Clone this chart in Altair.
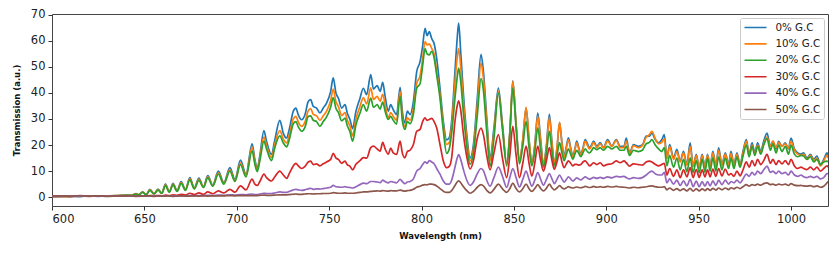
import altair as alt
import pandas as pd

# wavelength grid (nm)
wavelength = (
    [600, 605, 610, 615, 620, 625, 630, 635, 640]
    + [643, 645.5, 647, 649, 651, 653, 655.2, 657.4, 659.4, 661.4, 663.5, 665.5, 667.7, 669.9, 672.2, 674.6, 677, 679.5, 682, 684.3, 687, 690, 693, 696.3, 699, 702, 705]
    + [708.3, 709.8, 711.1, 712.5, 714.7, 716.1, 718.8, 720.6, 723.3, 725.2, 727, 728.4, 730.6, 732, 733.3, 735.1, 736.9, 738.7, 740, 741.4, 743.2, 745, 746.8, 748.6, 750.8, 752.2, 753.7, 755, 756.8, 758.6, 759.8, 761.3, 762.7, 764.5, 766.7, 768.5, 770.3, 772.5]
    + [774.0, 776.0, 777.6, 779.0, 780.3, 782.0, 783.3, 784.7, 786.5, 788.4, 789.6, 791.0, 792.3, 793.8, 795.6, 797.4, 799.2, 800.6, 801.9, 803.0, 804.2, 805.5, 806.8, 808.2, 810.0, 811.8, 813.6, 815.0, 816.3, 818.1, 819.3, 820.1, 821.2, 822.7, 824.5, 826.3, 828.1, 830.2, 832.2, 833.5, 835.3, 837.1, 839.2]
    + [841.6, 843.8, 846.1, 847.8, 849.4, 851.2, 853.0, 854.8, 856.6, 858.2, 859.7, 861.3, 862.9, 864.5, 866.0, 867.6, 869.2, 870.6, 871.9, 873.3, 874.7, 876.0, 877.2, 878.4, 879.5, 880.7, 881.9, 883.0, 884.0, 885.1, 886.2, 887.4, 888.6, 889.8, 890.9, 892.0, 893.1, 894.9, 896.7, 898.5, 900.7, 903.0, 905.4, 907.5]
    + [909.6, 910.8, 912.6, 914.7, 917.4, 919.5, 921.6, 923.3, 924.7, 926.5, 928.3, 930.0, 931.4, 932.8, 934.3, 936.4, 938.2, 940.0, 941.8, 943.6, 945.4, 947.0, 948.7, 950.3, 951.9, 953.4, 954.8, 956.2, 957.7, 959.3, 960.8, 962.6, 964.4, 966.2]
    + [967.5, 969.1, 970.7, 972.4, 974.0, 975.8, 977.3, 978.9, 980.4, 981.9, 983.6, 985.2, 987.0, 988.8, 990.2, 991.9, 993.3, 995.1, 996.9, 998.6, 1000.0, 1001.8, 1003.6, 1005.4, 1006.8, 1008.6, 1010.5, 1012.3, 1014.0, 1015.9, 1017.7, 1019.5, 1020.0]
)

gc0 = (
    [0.3, 0.3, 0.4, 0.3, 0.4, 0.4, 0.5, 0.6, 0.8]
    + [0.7, 1.4, 0.9, 2.0, 1.0, 3.0, 1.3, 3.1, 1.5, 5.0, 2.0, 5.3, 2.4, 6.0, 2.9, 7.5, 3.5, 7.3, 4.0, 8.3, 4.6, 10.0, 5.6, 11.3, 6.8, 14.2, 8.8]
    + [20.5, 14.5, 11.0, 16.0, 25.5, 21.5, 16.4, 22.0, 29.5, 24.5, 22.7, 26.0, 33.0, 34.2, 31.6, 29.7, 31.6, 36.7, 37.4, 34.8, 34.2, 32.3, 34.2, 36.1, 40.5, 45.8, 39.9, 38.0, 34.2, 35.5, 32.3, 29.7, 26.3, 32.9, 38.0, 41.8, 39.3, 47.0]
    + [41.5, 42.8, 40.6, 44.1, 38.7, 33.0, 35.5, 33.6, 31.7, 42.1, 33.0, 28.5, 33.0, 31.7, 36.7, 48.2, 52.0, 58.0, 64.8, 62.0, 63.5, 60.9, 59.0, 53.3, 41.8, 29.1, 22.0, 22.8, 29.1, 48.2, 60.9, 66.8, 55.8, 39.3, 24.0, 15.1, 20.2, 38.0, 54.8, 48.2, 30.4, 15.1, 26.6]
    + [41.9, 28.0, 13.0, 25.0, 44.6, 28.0, 14.0, 22.0, 34.2, 22.0, 13.2, 20.0, 32.3, 22.0, 12.6, 20.0, 31.8, 21.0, 13.2, 18.5, 28.5, 21.0, 15.8, 19.5, 22.8, 19.0, 15.8, 18.5, 21.5, 19.0, 16.4, 19.0, 22.1, 20.5, 19.0, 20.0, 21.5, 19.6, 20.9, 19.0, 22.1, 19.6, 22.1, 19.5]
    + [19.5, 22.7, 17.0, 20.2, 19.5, 20.0, 23.4, 23.4, 24.6, 22.1, 20.8, 22.0, 24.0, 15.1, 20.2, 15.1, 18.3, 13.8, 17.6, 12.5, 20.8, 11.9, 16.4, 11.3, 16.4, 11.5, 16.4, 11.8, 17.6, 12.0, 18.9, 12.5, 17.0, 12.5]
    + [17.6, 12.5, 17.0, 12.5, 17.6, 22.1, 16.5, 20.8, 17.0, 20.8, 17.6, 21.4, 24.6, 19.5, 21.4, 18.5, 21.4, 19.5, 20.8, 18.5, 22.7, 18.5, 17.0, 16.5, 17.0, 15.1, 16.4, 14.5, 15.8, 12.5, 14.5, 17.0, 15.5]
)

gc10 = (
    [0.3, 0.3, 0.3, 0.4, 0.4, 0.4, 0.5, 0.6, 0.7]
    + [0.7, 1.3, 0.9, 1.9, 1.0, 2.8, 1.3, 2.9, 1.5, 4.7, 2.0, 5.0, 2.3, 5.6, 2.8, 7.0, 3.4, 6.8, 3.9, 7.8, 4.4, 9.3, 5.3, 10.5, 6.4, 13.2, 8.3]
    + [19.2, 13.6, 10.4, 15.0, 23.0, 19.8, 15.2, 20.3, 25.5, 22.3, 20.8, 23.8, 30.0, 31.0, 28.8, 27.2, 28.8, 33.2, 34.0, 31.8, 31.2, 29.5, 31.2, 33.0, 37.0, 41.5, 36.5, 34.8, 31.3, 32.5, 29.6, 27.2, 23.5, 30.0, 34.8, 38.2, 35.8, 42.0]
    + [37.5, 38.7, 36.8, 39.5, 35.5, 30.4, 32.5, 31.0, 29.5, 40.6, 31.0, 27.0, 30.5, 29.5, 34.0, 43.7, 46.5, 53.0, 59.7, 58.4, 58.8, 57.1, 55.0, 48.2, 39.3, 27.5, 20.2, 21.0, 27.0, 44.0, 53.5, 57.0, 50.0, 36.0, 22.0, 13.9, 18.5, 35.0, 51.5, 45.5, 28.5, 14.0, 25.0]
    + [40.6, 27.0, 12.8, 25.0, 44.4, 27.5, 13.8, 22.0, 34.5, 22.0, 13.0, 19.5, 31.0, 21.0, 12.5, 19.0, 30.5, 20.5, 13.0, 19.0, 28.8, 20.5, 15.2, 18.8, 22.0, 18.5, 15.2, 18.0, 20.8, 18.5, 16.0, 18.5, 21.5, 19.8, 18.5, 19.5, 21.0, 19.0, 20.5, 18.8, 21.5, 19.5, 21.8, 19.0]
    + [19.0, 21.5, 16.5, 19.8, 19.0, 19.8, 23.0, 24.0, 25.3, 22.5, 20.5, 21.0, 22.5, 14.8, 19.5, 14.5, 17.5, 13.5, 17.0, 12.3, 19.5, 11.8, 16.0, 11.2, 16.0, 11.3, 16.0, 11.6, 17.0, 11.8, 18.0, 12.2, 16.5, 12.2]
    + [16.8, 12.0, 16.5, 12.0, 17.0, 21.5, 16.0, 20.0, 16.5, 20.0, 17.0, 20.5, 23.0, 19.5, 21.5, 19.0, 21.0, 19.5, 20.5, 18.8, 21.5, 18.0, 16.5, 16.0, 16.5, 14.5, 16.0, 14.0, 15.0, 12.0, 14.0, 16.0, 15.0]
)

gc20 = (
    [0.3, 0.3, 0.3, 0.3, 0.4, 0.4, 0.5, 0.5, 0.7]
    + [0.6, 1.2, 0.8, 1.8, 0.9, 2.6, 1.2, 2.7, 1.4, 4.4, 1.9, 4.7, 2.2, 5.3, 2.6, 6.6, 3.2, 6.4, 3.7, 7.4, 4.2, 8.8, 5.0, 10.0, 6.0, 12.5, 7.8]
    + [17.8, 12.6, 9.8, 14.0, 21.5, 18.5, 14.0, 19.0, 23.5, 20.8, 19.3, 22.0, 28.2, 29.0, 27.0, 25.3, 26.8, 31.0, 31.2, 29.5, 29.0, 27.2, 29.0, 30.8, 34.5, 38.2, 34.0, 32.5, 29.3, 30.3, 27.5, 25.0, 21.5, 27.8, 32.3, 35.5, 33.0, 38.0]
    + [34.5, 35.5, 33.8, 36.5, 33.0, 29.8, 31.0, 29.5, 28.0, 38.7, 29.5, 26.0, 29.0, 28.2, 32.0, 41.8, 43.5, 50.5, 57.0, 55.0, 54.6, 56.0, 53.5, 46.9, 38.0, 25.5, 16.8, 18.5, 24.5, 38.0, 46.0, 49.5, 44.5, 32.0, 19.5, 12.6, 17.0, 31.5, 45.5, 41.0, 25.0, 11.9, 22.5]
    + [39.9, 26.0, 12.0, 24.0, 41.9, 26.5, 12.8, 19.5, 29.1, 19.0, 12.0, 17.5, 26.6, 18.0, 11.5, 17.0, 25.3, 17.5, 12.0, 16.0, 20.9, 17.0, 14.0, 16.5, 18.5, 16.5, 14.5, 16.5, 18.0, 16.8, 15.5, 17.0, 18.5, 17.5, 17.0, 17.8, 19.0, 18.2, 19.0, 18.0, 19.5, 18.5, 19.5, 18.0]
    + [18.0, 19.5, 16.0, 18.0, 17.5, 18.0, 20.5, 21.0, 22.1, 20.0, 18.5, 17.5, 19.0, 12.0, 16.0, 11.5, 15.0, 10.5, 14.5, 9.8, 15.1, 9.4, 14.0, 9.4, 14.5, 9.6, 15.0, 10.0, 15.1, 10.0, 15.5, 10.5, 15.0, 11.0]
    + [15.0, 11.0, 15.5, 11.5, 15.8, 20.0, 15.5, 19.5, 16.0, 19.5, 16.5, 20.0, 22.5, 18.0, 20.5, 17.0, 20.0, 17.5, 19.5, 16.5, 20.0, 16.5, 15.5, 16.0, 15.8, 14.5, 15.5, 13.5, 14.5, 12.5, 13.5, 13.8, 13.5]
)

gc30 = (
    [0.3, 0.3, 0.3, 0.4, 0.3, 0.4, 0.4, 0.4, 0.5]
    + [0.4, 0.5, 0.4, 0.5, 0.4, 0.6, 0.5, 0.6, 0.5, 0.8, 0.6, 0.9, 0.7, 1.1, 0.8, 1.5, 1.0, 1.6, 1.1, 2.0, 1.3, 2.4, 1.6, 3.0, 1.9, 4.3, 2.8]
    + [6.9, 5.0, 4.5, 6.0, 8.8, 7.5, 6.2, 7.8, 10.0, 8.5, 7.2, 9.0, 12.0, 13.0, 12.0, 11.0, 11.8, 13.5, 13.8, 12.5, 12.8, 12.0, 12.8, 13.5, 14.5, 16.8, 15.0, 14.5, 13.0, 13.8, 12.5, 11.8, 10.5, 12.6, 14.0, 15.2, 15.0, 19.0]
    + [19.6, 18.5, 17.7, 21.0, 18.5, 16.5, 18.8, 17.0, 16.4, 21.5, 17.0, 15.1, 17.5, 18.0, 20.2, 25.3, 26.0, 29.0, 30.4, 29.5, 29.8, 30.2, 29.0, 26.6, 20.2, 13.9, 11.3, 11.8, 15.1, 29.1, 35.0, 37.0, 33.5, 24.0, 15.5, 10.8, 14.0, 22.7, 26.5, 24.0, 16.0, 10.5, 17.0]
    + [24.0, 15.0, 7.5, 16.0, 27.2, 16.0, 7.5, 13.0, 19.6, 13.0, 8.1, 13.0, 19.6, 14.0, 10.0, 14.0, 19.0, 14.0, 10.7, 13.5, 17.0, 13.5, 11.3, 12.8, 13.9, 13.0, 12.0, 12.6, 12.6, 12.3, 12.5, 13.5, 13.9, 13.0, 12.0, 12.5, 13.2, 12.5, 13.2, 12.0, 12.6, 12.8, 13.9, 13.2]
    + [13.9, 13.2, 11.9, 12.8, 12.5, 12.3, 13.5, 13.8, 13.5, 12.6, 12.0, 12.5, 13.0, 8.5, 11.0, 8.0, 10.5, 7.5, 10.5, 7.8, 11.3, 7.5, 10.6, 7.6, 10.5, 7.8, 10.5, 7.8, 10.8, 8.0, 11.0, 8.2, 10.8, 8.5]
    + [9.0, 8.0, 10.0, 8.2, 10.5, 13.5, 11.5, 14.0, 12.0, 14.5, 12.5, 14.0, 16.4, 13.0, 14.5, 12.5, 14.0, 12.8, 14.0, 12.5, 14.5, 12.0, 11.0, 11.5, 11.0, 10.6, 11.5, 10.5, 11.5, 10.0, 11.0, 12.0, 11.5]
)

gc40 = (
    [0.3, 0.4, 0.3, 0.3, 0.4, 0.3, 0.4, 0.4, 0.4]
    + [0.4, 0.4, 0.3, 0.4, 0.4, 0.4, 0.4, 0.5, 0.4, 0.5, 0.4, 0.5, 0.5, 0.5, 0.5, 0.6, 0.5, 0.6, 0.6, 0.7, 0.6, 0.8, 0.7, 0.9, 0.8, 1.0, 0.9]
    + [1.2, 1.0, 1.0, 1.2, 1.5, 1.4, 1.4, 1.6, 2.0, 1.8, 1.8, 2.2, 2.8, 3.0, 2.8, 2.6, 2.8, 3.2, 3.4, 3.0, 3.2, 3.1, 3.3, 3.5, 3.8, 4.5, 4.0, 3.9, 3.8, 4.0, 3.8, 3.7, 3.5, 4.0, 4.8, 5.4, 5.2, 6.0]
    + [6.0, 5.8, 5.6, 6.5, 6.0, 5.5, 6.0, 5.8, 5.5, 6.8, 6.0, 5.2, 5.8, 6.0, 7.0, 10.0, 11.0, 12.5, 13.5, 13.0, 14.0, 13.5, 12.8, 11.0, 8.8, 6.2, 5.0, 5.0, 6.5, 11.5, 15.0, 16.3, 14.5, 10.5, 6.5, 4.5, 5.8, 9.0, 11.0, 10.2, 6.5, 4.2, 7.5]
    + [11.5, 8.0, 3.7, 7.5, 11.0, 7.5, 3.9, 6.8, 10.0, 6.8, 4.2, 6.5, 9.4, 6.8, 4.6, 6.8, 9.0, 7.0, 5.2, 6.8, 8.5, 7.0, 5.8, 6.8, 7.8, 7.0, 6.2, 6.8, 7.4, 7.0, 6.6, 7.2, 7.8, 7.3, 6.9, 7.2, 7.6, 7.2, 7.6, 7.2, 7.8, 7.4, 8.0, 7.8]
    + [8.0, 7.5, 7.0, 7.5, 7.2, 7.5, 8.5, 9.5, 10.0, 9.0, 8.5, 8.5, 9.5, 5.5, 7.0, 5.0, 6.5, 4.5, 6.3, 4.3, 6.8, 4.0, 6.2, 4.0, 6.0, 4.2, 6.0, 4.3, 6.3, 4.5, 6.5, 4.8, 6.5, 5.0]
    + [6.0, 5.5, 6.5, 5.5, 7.0, 8.8, 8.0, 9.5, 8.5, 10.0, 9.0, 10.5, 11.9, 9.5, 10.0, 9.0, 10.0, 9.0, 9.5, 8.5, 10.0, 8.5, 8.0, 8.5, 7.8, 7.5, 8.0, 7.5, 8.0, 7.0, 7.5, 9.0, 9.0]
)

gc50 = (
    [0.4, 0.5, 0.3, 0.6, 0.4, 0.5, 0.3, 0.5, 0.4]
    + [0.5, 0.3, 0.5, 0.4, 0.4, 0.5, 0.3, 0.5, 0.4, 0.4, 0.5, 0.3, 0.4, 0.5, 0.4, 0.4, 0.5, 0.4, 0.5, 0.4, 0.5, 0.5, 0.5, 0.6, 0.5, 0.6, 0.6]
    + [0.6, 0.6, 0.6, 0.7, 0.8, 0.7, 0.7, 0.8, 0.9, 0.9, 0.9, 1.0, 1.1, 1.2, 1.1, 1.1, 1.2, 1.3, 1.3, 1.2, 1.3, 1.3, 1.4, 1.4, 1.5, 1.7, 1.6, 1.5, 1.5, 1.6, 1.5, 1.5, 1.5, 1.6, 1.8, 2.0, 2.0, 2.2]
    + [2.3, 2.4, 2.3, 2.5, 2.4, 2.3, 2.5, 2.4, 2.4, 2.7, 2.5, 2.3, 2.5, 2.6, 3.0, 3.8, 4.2, 4.6, 4.8, 4.7, 5.0, 5.0, 4.8, 4.3, 3.3, 2.3, 1.8, 1.8, 2.5, 4.5, 5.8, 6.3, 5.5, 4.0, 2.5, 1.5, 2.2, 3.8, 4.8, 4.3, 2.6, 1.6, 3.0]
    + [5.0, 3.2, 1.8, 3.3, 5.4, 3.3, 2.0, 3.2, 5.0, 3.2, 2.2, 3.3, 4.8, 3.3, 2.4, 3.4, 5.0, 3.6, 2.8, 3.5, 4.4, 3.6, 3.2, 3.6, 4.0, 3.7, 3.5, 3.7, 3.9, 3.7, 3.6, 3.8, 4.1, 3.9, 3.7, 3.8, 4.1, 3.8, 4.0, 3.8, 4.1, 3.9, 4.1, 3.9]
    + [3.8, 3.7, 3.5, 3.8, 3.6, 3.8, 4.0, 4.2, 4.3, 4.0, 3.8, 3.8, 4.0, 2.8, 3.5, 2.6, 3.3, 2.5, 3.2, 2.4, 3.4, 2.3, 3.2, 2.4, 3.2, 2.5, 3.3, 2.6, 3.4, 2.7, 3.5, 2.8, 3.5, 2.9]
    + [3.6, 3.2, 3.8, 3.3, 4.0, 4.8, 4.2, 4.8, 4.5, 5.0, 4.6, 5.2, 5.5, 4.8, 5.0, 4.6, 5.0, 4.7, 5.0, 4.5, 5.2, 4.6, 4.4, 4.5, 4.3, 4.2, 4.4, 4.0, 4.3, 3.8, 4.2, 5.5, 6.0]
)

labels = ["0% G.C", "10% G.C", "20% G.C", "30% G.C", "40% G.C", "50% G.C"]
colors = ["#1f77b4", "#ff7f0e", "#2ca02c", "#d62728", "#9467bd", "#8c564b"]
x_ticks = [600, 650, 700, 750, 800, 850, 900, 950, 1000]
y_ticks = [0, 10, 20, 30, 40, 50, 60, 70]

series = [gc0, gc10, gc20, gc30, gc40, gc50]
for lab, s in zip(labels, series):
    if len(s) != len(wavelength):
        raise SystemExit(f"length mismatch {lab}: {len(s)} vs {len(wavelength)}")

rows = []
for lab, vals in zip(labels, series):
    for w, v in zip(wavelength, vals):
        rows.append({"wl": w, "T": v, "series": lab})
df = pd.DataFrame(rows)

color = alt.Color(
    "series:N",
    scale=alt.Scale(domain=labels, range=colors),
    sort=labels,
    title=None,
    legend=alt.Legend(
        orient="none", legendX=688, legendY=4,
        symbolType="stroke", symbolSize=484, symbolStrokeWidth=1.6,
        clipHeight=12, rowPadding=4.4, padding=3.5,
        labelFontSize=10.3, labelOffset=8, labelColor="#222", labelFont="DejaVu Sans",
        strokeColor="#cccccc", fillColor="white", cornerRadius=2,
    ),
)

x = alt.X(
    "wl:Q",
    scale=alt.Scale(domain=[600, 1020], nice=False, zero=False),
    axis=alt.Axis(values=x_ticks, title="Wavelength (nm)", format="d"),
)
y = alt.Y(
    "T:Q",
    scale=alt.Scale(domain=[-3.4, 70.3], nice=False, zero=False),
    axis=alt.Axis(values=y_ticks, title="Transmission (a.u.)", titlePadding=9),
)

layers = [
    alt.Chart(df)
    .transform_filter(alt.datum.series == lab)
    .mark_line(strokeWidth=1.7, interpolate="monotone", clip=True)
    .encode(x=x, y=y, color=color)
    for lab in labels
]

chart = (
    alt.layer(*layers)
    .properties(
        width=776, height=192,
        autosize=alt.AutoSizeParams(type="none"),
        padding={"left": 44, "top": 6, "right": 3, "bottom": 40},
        background="white",
    )
    .configure_view(stroke="#444444", strokeWidth=1)
    .configure_axis(
        grid=False, domain=False,
        tickSize=4, tickColor="#333333", tickWidth=1,
        labelFont="DejaVu Sans", labelFontSize=11.5, labelColor="#222222", labelPadding=3,
        titleFont="DejaVu Sans", titleFontSize=8.5, titleFontWeight="bold", titleColor="#111111",
    )
    .configure_axisX(titlePadding=7)
)

chart.save("out.html", embed_options={"renderer": "svg", "actions": False})
